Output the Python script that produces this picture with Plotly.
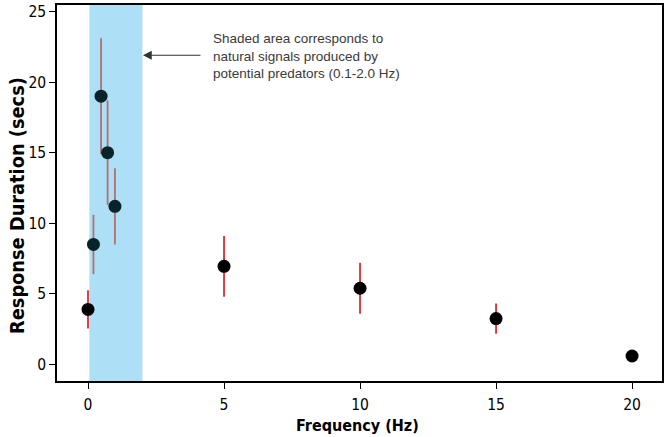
import plotly.graph_objects as go

# Data
frequency_hz = [0.0, 0.2, 0.48, 0.72, 0.99, 5.0, 10.0, 15.0, 20.0]
response_secs = [3.9, 8.5, 19.0, 15.0, 11.2, 6.95, 5.4, 3.25, 0.6]
error_secs = [1.35, 2.1, 4.1, 3.7, 2.7, 2.15, 1.8, 1.07, 0.0]
shade_range = [0.1, 2.0]
x_ticks = [0, 5, 10, 15, 20]
y_ticks = [0, 5, 10, 15, 20, 25]
x_title = "Frequency (Hz)"
y_title = "Response Duration (secs)"
note_text = ("Shaded area corresponds to<br>natural signals produced by<br>"
             "potential predators (0.1-2.0 Hz)")

inside = [i for i, f in enumerate(frequency_hz) if shade_range[0] <= f <= shade_range[1]]
outside = [i for i in range(len(frequency_hz)) if i not in inside]

def pick(lst, idx):
    return [lst[i] for i in idx]

W, H = 667, 437
ML, MR, MT, MB = 57, 5, 5, 56
COND = "DejaVu Sans Condensed, DejaVu Sans"

fig = go.Figure()

fig.add_shape(type="rect", xref="x", yref="paper",
              x0=shade_range[0] - 0.05, x1=shade_range[1], y0=0, y1=1,
              fillcolor="#ade0f7", line_width=0, layer="below")

fig.add_trace(go.Scatter(
    x=pick(frequency_hz, outside), y=pick(response_secs, outside),
    mode="markers",
    marker=dict(color="black", size=13),
    error_y=dict(type="data", array=pick(error_secs, outside),
                 color="#e8262a", thickness=1.8, width=0),
    showlegend=False))

fig.add_trace(go.Scatter(
    x=pick(frequency_hz, inside), y=pick(response_secs, inside),
    mode="markers",
    marker=dict(color="#07242a", size=13),
    error_y=dict(type="data", array=pick(error_secs, inside),
                 color="#b4706a", thickness=1.8, width=0),
    showlegend=False))

fig.add_annotation(x=2.02, y=21.9, xref="x", yref="y", text="",
                   showarrow=True, ax=59, ay=0, arrowhead=2, arrowsize=1.6,
                   arrowwidth=1.1, arrowcolor="#333333")
fig.add_annotation(x=4.52, y=21.85, xref="x", yref="y", text=note_text,
                   showarrow=False, xanchor="left", yanchor="middle", align="left",
                   font=dict(family="Liberation Sans, Arial, sans-serif", size=13.5,
                             color="#3a3a3a"))

# axis titles placed as annotations (pixel positions converted to paper coords)
pw, ph = W - ML - MR, H - MT - MB
fig.add_annotation(text="<b>" + x_title + "</b>", xref="paper", yref="paper",
                   x=(357 - ML) / pw, y=(H - MB - 425) / ph,
                   xanchor="center", yanchor="middle", showarrow=False,
                   font=dict(family=COND, size=16, color="black"))
fig.add_annotation(text="<b>" + y_title + "</b>", xref="paper", yref="paper",
                   x=(18 - ML) / pw, y=(H - MB - 206) / ph, textangle=-90,
                   xanchor="center", yanchor="middle", showarrow=False,
                   font=dict(family=COND, size=19.8, color="black"))

axis_common = dict(showline=True, linecolor="black", linewidth=1.5, mirror=True,
                   ticks="outside", ticklen=6, tickcolor="black", showgrid=False,
                   zeroline=False, automargin=False,
                   tickfont=dict(family=COND, size=15.5, color="black"))

fig.update_layout(
    width=W, height=H,
    margin=dict(l=ML, r=MR, t=MT, b=MB),
    plot_bgcolor="white", paper_bgcolor="white",
    xaxis=dict(range=[-1.14, 21.1], tickvals=x_ticks, ticklabelstandoff=3,
               **axis_common),
    yaxis=dict(range=[-1.17, 25.46], tickvals=y_ticks, **axis_common),
)

fig.write_html("out.html", config={"displayModeBar": False},
               post_script="document.body.style.margin='0';"
                           "document.body.style.overflow='hidden';")
